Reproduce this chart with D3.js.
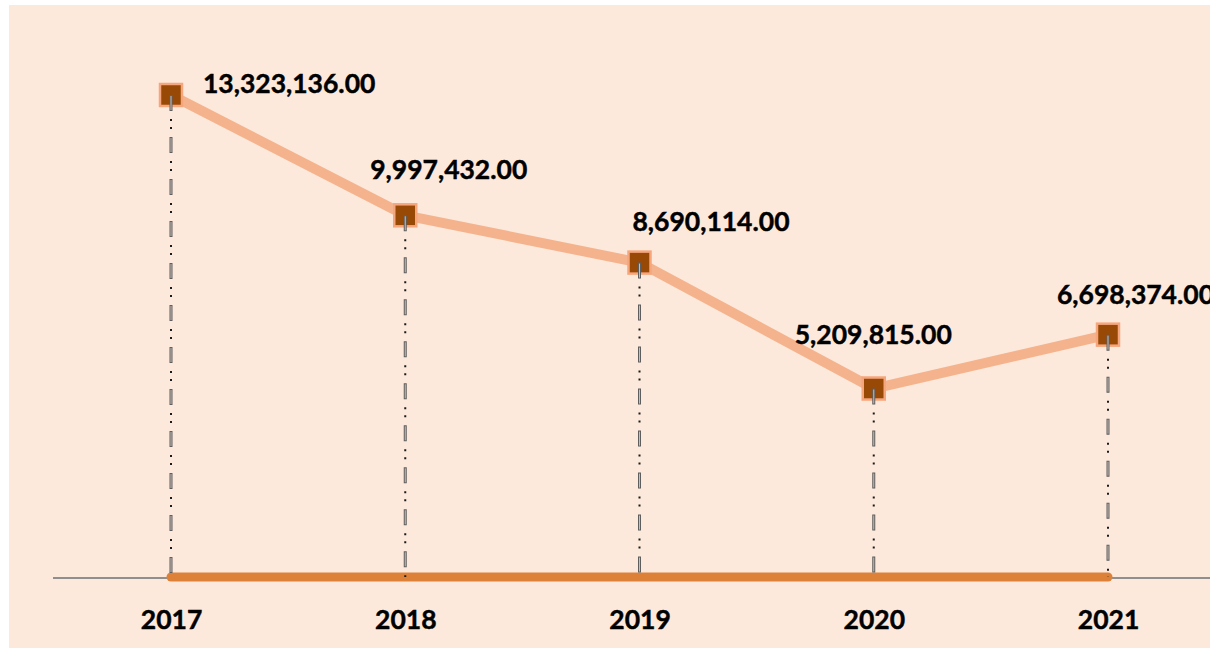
<!DOCTYPE html>
<html>
<head>
<meta charset="utf-8">
<script src="https://cdn.jsdelivr.net/npm/d3@7"></script>
<style>
  body { margin: 0; background: #fff; }
  text { font-family: Lato, "Open Sans", sans-serif; font-weight: bold; fill: #000; }
</style>
</head>
<body>
<svg id="chart" width="1210" height="649"></svg>
<script>
// values
var years = ['2017', '2018', '2019', '2020', '2021'];
var amounts = [13323136, 9997432, 8690114, 5209815, 6698374];
var baseSeries = [0, 0, 0, 0, 0];
var yMax = 14000000;

// where each value label sits, relative to its point (left edge, baseline)
var labelOffsets = [[32, -2], [-35, -36], [-7, -32], [-79, -45], [-51, -31]];

var svg = d3.select('#chart');

svg.append('rect')
  .attr('x', 9).attr('y', 5)
  .attr('width', 1201).attr('height', 643)
  .attr('fill', '#fde9db');

var x = d3.scalePoint().domain(years).range([171, 1108]);
var y = d3.scaleLinear().domain([0, yMax]).range([577, 70.5]);

var rows = years.map(function(yr, i) {
  return { year: yr, value: amounts[i], base: baseSeries[i], off: labelOffsets[i] };
});

// category axis line
svg.append('line')
  .attr('x1', 53).attr('x2', 1210)
  .attr('y1', y(0) + 1).attr('y2', y(0) + 1)
  .attr('stroke', '#8f8f8f').attr('stroke-width', 2);

// zero series drawn as the thick orange bar
svg.append('path')
  .datum(rows)
  .attr('fill', 'none')
  .attr('stroke', '#dd8139')
  .attr('stroke-width', 9)
  .attr('stroke-linecap', 'round')
  .attr('d', d3.line().x(function(d) { return x(d.year); }).y(function(d) { return y(d.base); }));

var axis = svg.append('g')
  .attr('transform', 'translate(0,' + (y(0) + 1) + ')')
  .call(d3.axisBottom(x).tickSize(0).tickPadding(32));
axis.select('.domain').remove();
axis.selectAll('text')
  .style('font-family', 'Lato, "Open Sans", sans-serif')
  .style('font-weight', 'bold')
  .style('font-size', '26.5px')
  .attr('fill', '#000')
  .attr('stroke', '#000').attr('stroke-width', 0.45);

// main line
svg.append('path')
  .datum(rows)
  .attr('fill', 'none')
  .attr('stroke', '#f5b38d')
  .attr('stroke-width', 10)
  .attr('stroke-linejoin', 'round')
  .attr('d', d3.line().x(function(d) { return x(d.year); }).y(function(d) { return y(d.value); }));

// markers
svg.selectAll('rect.mark')
  .data(rows)
  .enter().append('rect')
  .attr('class', 'mark')
  .attr('x', function(d) { return x(d.year) - 11; })
  .attr('y', function(d) { return y(d.value) - 11; })
  .attr('width', 22).attr('height', 22)
  .attr('fill', '#984906')
  .attr('stroke', '#f6a67c')
  .attr('stroke-width', 2.5);

// drop lines: long dash (outlined) + two dots
var drops = svg.selectAll('g.drop')
  .data(rows)
  .enter().append('g')
  .attr('class', 'drop');

drops.append('line')
  .attr('x1', function(d) { return x(d.year); })
  .attr('x2', function(d) { return x(d.year); })
  .attr('y1', function(d) { return y(d.value); })
  .attr('y2', y(0))
  .attr('stroke', '#5e5e5e').attr('stroke-width', 3)
  .attr('stroke-dasharray', '16 26');
drops.append('line')
  .attr('x1', function(d) { return x(d.year); })
  .attr('x2', function(d) { return x(d.year); })
  .attr('y1', function(d) { return y(d.value) + 1; })
  .attr('y2', y(0))
  .attr('stroke', '#c9bfb6').attr('stroke-width', 1)
  .attr('stroke-dasharray', '14 28');
drops.append('line')
  .attr('x1', function(d) { return x(d.year); })
  .attr('x2', function(d) { return x(d.year); })
  .attr('y1', function(d) { return y(d.value); })
  .attr('y2', y(0))
  .attr('stroke', '#1a1a1a').attr('stroke-width', 2)
  .attr('stroke-dasharray', '0 24 2 6 2 8');

// value labels
svg.selectAll('text.val')
  .data(rows)
  .enter().append('text')
  .attr('class', 'val')
  .attr('x', function(d) { return x(d.year) + d.off[0]; })
  .attr('y', function(d) { return y(d.value) + d.off[1]; })
  .style('font-size', '26.5px')
  .attr('stroke', '#000').attr('stroke-width', 0.45)
  .text(function(d) { return d3.format(',.2f')(d.value); });
</script>
</body>
</html>
